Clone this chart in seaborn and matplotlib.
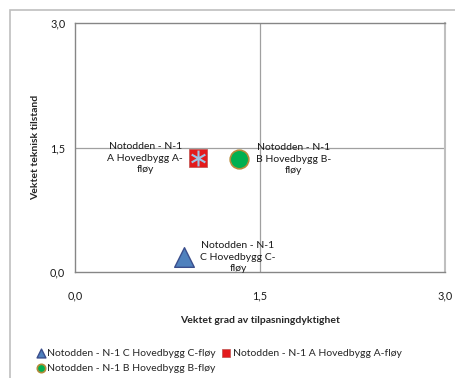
import matplotlib
matplotlib.use("Agg")
import matplotlib.pyplot as plt
import seaborn as sns
import pandas as pd
from matplotlib.patches import Rectangle

# data
names = ["Notodden - N-1 C Hovedbygg C-fløy",
         "Notodden - N-1 A Hovedbygg A-fløy",
         "Notodden - N-1 B Hovedbygg B-fløy"]
point_labels = ["Notodden - N-1\nC Hovedbygg C-\nfløy",
                "Notodden - N-1\nA Hovedbygg A-\nfløy",
                "Notodden - N-1\nB Hovedbygg B-\nfløy"]
tilpasning = [0.88, 1.00, 1.33]
teknisk = [0.18, 1.37, 1.36]
ticks = [0.0, 1.5, 3.0]
tick_labels = ["0,0", "1,5", "3,0"]

sns.set_theme(style="white")
plt.rcParams['font.family'] = ['Lato', 'DejaVu Sans']

df = pd.DataFrame({'navn': names, 'x': tilpasning, 'y': teknisk, 'etikett': point_labels})

fig = plt.figure(figsize=(4.55, 3.78), dpi=100)
ax = fig.add_axes([0.165, 0.280, 0.813, 0.659])

# outer chart border
fig.patches.append(Rectangle((10/455, -0.05), 1.2, 1 - 10/378 + 0.05, transform=fig.transFigure,
                             fill=False, edgecolor='#BFBFBF', lw=1.2))

ax.axvline(1.5, color='#A0A0A0', lw=0.9, zorder=1)
ax.axhline(1.5, color='#A0A0A0', lw=0.9, zorder=1)

styles = {
    names[0]: dict(marker='^', s=200, color='#4F81BD', edgecolor='#3B4E8C', linewidth=1.0),
    names[1]: dict(marker='s', s=150, color='#E31A1C', edgecolor='#C0504D', linewidth=0.5),
    names[2]: dict(marker='o', s=180, color='#00B050', edgecolor='#B58B3A', linewidth=1.2),
}
for _, row in df.iterrows():
    sns.scatterplot(data=df[df['navn'] == row['navn']], x='x', y='y', ax=ax,
                    label=row['navn'], zorder=3, **styles[row['navn']])
# light blue star pattern on the red square
sub = df[df['navn'] == names[1]]
ax.scatter(sub['x'], sub['y'], marker='$\\ast$', s=130, color='#9DC3E6', zorder=4, linewidths=0)

# data labels
offsets = [(12, 0, 'left'), (-11, 0, 'right'), (12, 0, 'left')]
for (dx, dy, ha), (_, row) in zip(offsets, df.iterrows()):
    ax.annotate(row['etikett'], (row['x'], row['y']), xytext=(dx, dy), textcoords='offset points',
                ha=ha, va='center', multialignment='center', fontsize=7.5, color='#1a1a1a',
                linespacing=1.35, zorder=5)

ax.set_xlim(0, 3)
ax.set_ylim(0, 3)
ax.set_xticks(ticks)
ax.set_xticklabels(tick_labels)
ax.set_yticks(ticks)
ax.set_yticklabels(tick_labels)
ax.tick_params(axis='x', length=0, pad=13, labelsize=7.8, colors='#1a1a1a')
ax.tick_params(axis='y', length=0, pad=7, labelsize=7.8, colors='#1a1a1a')
ax.set_xlabel("Vektet grad av tilpasningdyktighet", fontsize=7.5, fontweight='bold', labelpad=11)
ax.set_ylabel("Vektet teknisk tilstand", fontsize=7.5, fontweight='bold', labelpad=7)

for side in ['left', 'bottom', 'top']:
    ax.spines[side].set_color('#868686')
    ax.spines[side].set_linewidth(1.0)
ax.spines['right'].set_color('#BFBFBF')
ax.spines['right'].set_linewidth(1.5)

h, l = ax.get_legend_handles_labels()
ax.get_legend().remove()
order = [0, 2, 1]
fig.legend([h[i] for i in order], [l[i] for i in order], ncol=2, loc='upper left',
           bbox_to_anchor=(0.065, 0.092), frameon=False, fontsize=7.5,
           handletextpad=0.0, columnspacing=0.4, handlelength=1.2,
           labelspacing=0.55, markerscale=0.45, borderpad=0)

fig.savefig("out.png", dpi=100)
